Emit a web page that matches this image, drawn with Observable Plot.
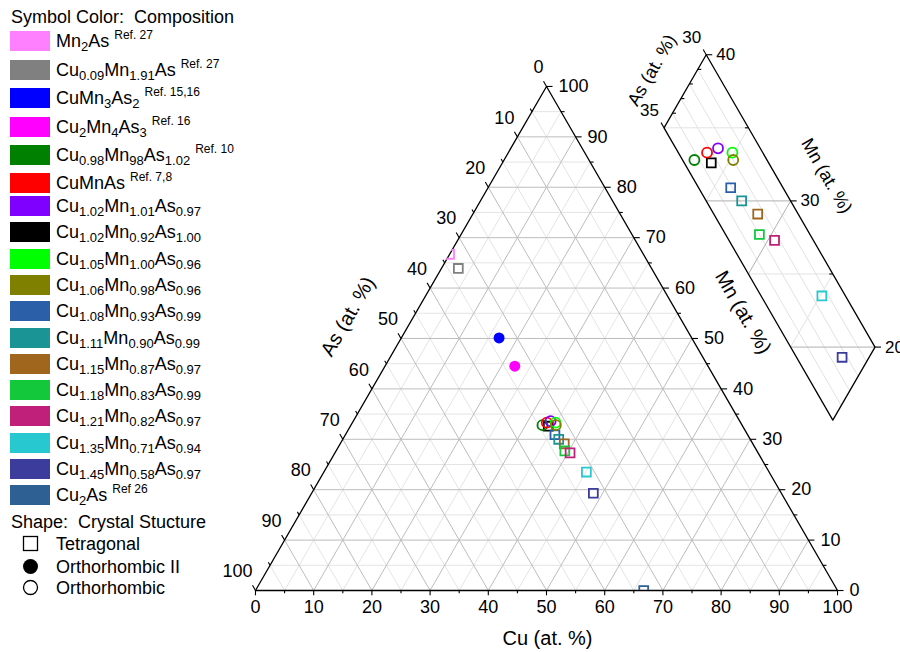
<!DOCTYPE html>
<html><head><meta charset="utf-8">
<script src="https://cdn.jsdelivr.net/npm/d3@7"></script>
<script src="https://cdn.jsdelivr.net/npm/@observablehq/plot@0.6"></script>
<style>
body{margin:0;background:#fff;}
#wrap{position:relative;width:900px;height:652px;font-family:"Liberation Sans",Arial,sans-serif;color:#000;overflow:hidden;background:#fff}
#chart{position:absolute;left:0;top:0}
#legend{position:absolute;left:0;top:0;width:250px;height:652px}
.row{position:absolute;left:0;height:24px;white-space:pre;font-size:18px}
.sw{position:absolute;left:10px;top:2px;width:40px;height:20px}
.lab{position:absolute;left:56px;top:0;line-height:24px;white-space:pre}
.ttl{position:absolute;left:11px;font-size:18px;line-height:24px;white-space:pre}
.shp{position:absolute;left:22px;top:3px}
sub{font-size:13px;vertical-align:-4px;line-height:0}
sup{font-size:12px;vertical-align:8px;line-height:0;margin-left:5px}
</style></head>
<body>
<div id="wrap"><div id="chart"></div><div id="legend"></div></div>
<script>
// ---------- data ----------
const labels = [
  "Mn<sub>2</sub>As",
  "Cu<sub>0.09</sub>Mn<sub>1.91</sub>As",
  "CuMn<sub>3</sub>As<sub>2</sub>",
  "Cu<sub>2</sub>Mn<sub>4</sub>As<sub>3</sub>",
  "Cu<sub>0.98</sub>Mn<sub>98</sub>As<sub>1.02</sub>",
  "CuMnAs",
  "Cu<sub>1.02</sub>Mn<sub>1.01</sub>As<sub>0.97</sub>",
  "Cu<sub>1.02</sub>Mn<sub>0.92</sub>As<sub>1.00</sub>",
  "Cu<sub>1.05</sub>Mn<sub>1.00</sub>As<sub>0.96</sub>",
  "Cu<sub>1.06</sub>Mn<sub>0.98</sub>As<sub>0.96</sub>",
  "Cu<sub>1.08</sub>Mn<sub>0.93</sub>As<sub>0.99</sub>",
  "Cu<sub>1.11</sub>Mn<sub>0.90</sub>As<sub>0.99</sub>",
  "Cu<sub>1.15</sub>Mn<sub>0.87</sub>As<sub>0.97</sub>",
  "Cu<sub>1.18</sub>Mn<sub>0.83</sub>As<sub>0.99</sub>",
  "Cu<sub>1.21</sub>Mn<sub>0.82</sub>As<sub>0.97</sub>",
  "Cu<sub>1.35</sub>Mn<sub>0.71</sub>As<sub>0.94</sub>",
  "Cu<sub>1.45</sub>Mn<sub>0.58</sub>As<sub>0.97</sub>",
  "Cu<sub>2</sub>As"
];
const refs = ["Ref. 27","Ref. 27","Ref. 15,16","Ref. 16","Ref. 10","Ref. 7,8","","","","","","","","","","","","Ref 26"];
const colors = ["#ff80ff","#808080","#0000ff","#ff00ff","#008000","#ff0000","#8000ff","#000000","#00ff00","#808000",
                "#2b5fa8","#1a9494","#a0661e","#14c83c","#c0207a","#28c8d0","#3c3c9c","#2e6094"];
const cuPct = [0, 2.9, 16.8, 22.3, 32.9, 33.4, 33.9, 34.0, 34.9, 35.2, 36.0, 37.1, 38.5, 39.3, 40.4, 45.1, 48.4, 66.7];
const mnPct = [66.7, 63.9, 50.1, 44.5, 32.8, 33.3, 33.6, 32.6, 33.3, 32.8, 30.9, 30.0, 29.1, 27.7, 27.3, 23.5, 19.3, 0];
const asPct = [33.3, 33.2, 33.1, 33.2, 34.3, 33.3, 32.5, 33.4, 31.8, 32.0, 33.1, 32.9, 32.4, 33.0, 32.3, 31.4, 32.3, 33.3];
const structure = ["Tetragonal","Tetragonal","Orthorhombic II","Orthorhombic II","Orthorhombic","Orthorhombic",
                   "Orthorhombic","Tetragonal","Orthorhombic","Orthorhombic","Tetragonal","Tetragonal","Tetragonal",
                   "Tetragonal","Tetragonal","Tetragonal","Tetragonal","Tetragonal"];
const inInset = [false,false,false,false,true,true,true,true,true,true,true,true,true,true,true,true,true,false];
const shapeNames = ["Tetragonal","Orthorhombic II","Orthorhombic"];

const majorTicks = [0,10,20,30,40,50,60,70,80,90,100];
const minorTicks = [5,15,25,35,45,55,65,75,85,95];
const insetCuRange = [30, 50];
const insetAsRange = [30, 35];
const insetAsTicks = [30,31,32,33,34,35];
const insetAsLabels = [30,35];
const insetMnTicks = [20,25,30,35,40];
const insetMnLabels = [20,30,40];
const insetCuGrid = [35,40,45];

// ---------- geometry ----------
const XD = [-43.81, 110.82], YD = [-10.65, 101.37];
const W = 900, H = 652;
const PX = W / (XD[1]-XD[0]);           // px per data unit
const S3 = Math.sqrt(3)/2;
const tx = (cu, mn) => cu + mn/2;
const ty = (cu, mn) => mn*S3;
const K = 2.9, IX0 = tx(100/3,100/3), IY0 = ty(100/3,100/3), IXC = 77.44, IYC = 75.31;
const ix = (cu, mn) => IXC + K*(tx(cu,mn)-IX0);
const iy = (cu, mn) => IYC + K*(ty(cu,mn)-IY0);

const pts = cuPct.map((c,i)=>({cu:c, mn:mnPct[i], as:asPct[i], color:colors[i], shape:structure[i], inset:inInset[i]}));

// main grid
const gridMinor = [], gridMajor = [];
for (const v of [...minorTicks, ...majorTicks.filter(t=>t>0 && t<100)]) {
  const arr = v % 10 === 0 ? gridMajor : gridMinor;
  arr.push({a:[0,v], b:[100-v,v]});        // const Mn
  arr.push({a:[v,0], b:[v,100-v]});        // const Cu
  arr.push({a:[0,100-v], b:[100-v,0]});    // const As
}
const tri = [[0,0],[100,0],[0,100],[0,0]];

// ticks (pixel lengths)
const tickSeg = [];
for (const t of majorTicks.concat(minorTicks)) {
  const L = (t % 10 === 0 ? 6 : 3.5) / PX;
  tickSeg.push({x1:tx(t,0), y1:0, x2:tx(t,0), y2:-L*0.8});
  tickSeg.push({x1:tx(100-t,t), y1:ty(100-t,t), x2:tx(100-t,t)+L, y2:ty(100-t,t)});
  tickSeg.push({x1:tx(0,100-t), y1:ty(0,100-t), x2:tx(0,100-t)-0.5*L, y2:ty(0,100-t)+S3*L});
}

// inset geometry
const [cuA, cuB] = insetCuRange, [asA, asB] = insetAsRange;
const insetPoly = [[cuA,100-cuA-asA],[cuA,100-cuA-asB],[cuB,100-cuB-asB],[cuB,100-cuB-asA],[cuA,100-cuA-asA]];
const iGridMinor = [], iGridMajor = [];
for (const a of insetAsTicks.filter(a=>a>asA && a<asB)) iGridMinor.push({a:[cuA,100-cuA-a], b:[cuB,100-cuB-a]});
for (const c of insetCuGrid) (c%10===0?iGridMajor:iGridMinor).push({a:[c,100-c-asA], b:[c,100-c-asB]});
for (const m of insetMnTicks.filter(m=>m<40)) (m%10===0?iGridMajor:iGridMinor).push({a:[100-asB-m,m], b:[100-asA-m,m]});
const iTickSeg = [];
for (const a of insetAsTicks) {
  const major = insetAsLabels.includes(a);
  const L = (major ? 6 : 3.5)/PX;
  const p = [cuA, 100-cuA-a];
  iTickSeg.push({x1:ix(...p), y1:iy(...p), x2:ix(...p)+(major? -0.5*L : L), y2:iy(...p)+(major? S3*L : 0)});
}
for (const m of insetMnTicks) {
  const major = insetMnLabels.includes(m);
  const L = (major ? 6 : 3.5)/PX;
  const p = [100-asA-m, m];
  iTickSeg.push({x1:ix(...p), y1:iy(...p), x2:ix(...p)+(major?L:-L), y2:iy(...p)});
}

const seg = (f) => ({x1:d=>f[0](...d.a), y1:d=>f[1](...d.a), x2:d=>f[0](...d.b), y2:d=>f[1](...d.b)});
const M = [tx, ty], I = [ix, iy];

const sq = pts.filter(d=>d.shape==="Tetragonal");
const oc = pts.filter(d=>d.shape==="Orthorhombic");
const fc = pts.filter(d=>d.shape==="Orthorhombic II");

const marks = [
  Plot.link(gridMinor, {...seg(M), stroke:"#e4e4e4", strokeWidth:1}),
  Plot.link(gridMajor, {...seg(M), stroke:"#bdbdbd", strokeWidth:1}),
  Plot.line(tri, {x:d=>tx(d[0],d[1]), y:d=>ty(d[0],d[1]), stroke:"#000", strokeWidth:1.3}),
  Plot.link(tickSeg, {x1:"x1", y1:"y1", x2:"x2", y2:"y2", stroke:"#000", strokeWidth:1.1}),
  Plot.text(majorTicks, {x:t=>tx(t,0), y:0, text:d=>String(d), dy:17, fontSize:18}),
  Plot.text(majorTicks, {x:t=>tx(100-t,t), y:t=>ty(100-t,t), text:d=>String(d), dx:12, textAnchor:"start", fontSize:18}),
  Plot.text(majorTicks, {x:t=>tx(0,100-t), y:t=>ty(0,100-t), text:d=>String(d), dx:-3, dy:-19, textAnchor:"end", fontSize:18}),
  Plot.text(["Cu (at. %)"], {x:tx(50,0), y:0, text:d=>d, dx:1, dy:48, fontSize:20}),
  Plot.text(["As (at. %)"], {x:tx(0,50), y:ty(0,50), text:d=>d, dx:-53, dy:-22, rotate:-60, fontSize:20}),
  Plot.text(["Mn (at. %)"], {x:tx(50,50), y:ty(50,50), text:d=>d, dx:51, dy:-26, rotate:60, fontSize:20})
];
const clipStart = marks.length;
marks.push(
  Plot.dot(sq, {x:d=>tx(d.cu,d.mn), y:d=>ty(d.cu,d.mn), symbol:"square", r:5, stroke:"color", fill:"none", strokeWidth:1.8}),
  Plot.dot(oc, {x:d=>tx(d.cu,d.mn), y:d=>ty(d.cu,d.mn), symbol:"circle", r:5, stroke:"color", fill:"none", strokeWidth:1.8}),
  Plot.dot(fc, {x:d=>tx(d.cu,d.mn), y:d=>ty(d.cu,d.mn), symbol:"circle", r:5.5, fill:"color", stroke:"none"})
);
const clipEnd = marks.length;
marks.push(
  Plot.link(iGridMinor, {...seg(I), stroke:"#e2e2e2", strokeWidth:1}),
  Plot.link(iGridMajor, {...seg(I), stroke:"#b0b0b0", strokeWidth:1}),
  Plot.line(insetPoly, {x:d=>ix(d[0],d[1]), y:d=>iy(d[0],d[1]), stroke:"#000", strokeWidth:1.3}),
  Plot.link(iTickSeg, {x1:"x1", y1:"y1", x2:"x2", y2:"y2", stroke:"#000", strokeWidth:1.1}),
  Plot.text(insetAsLabels, {x:a=>ix(cuA,100-cuA-a), y:a=>iy(cuA,100-cuA-a), text:d=>String(d), dx:-5, dy:-17, textAnchor:"end", fontSize:17}),
  Plot.text(insetMnLabels, {x:m=>ix(100-asA-m,m), y:m=>iy(100-asA-m,m), text:d=>String(d), dx:10, textAnchor:"start", fontSize:17}),
  Plot.text(["As (at. %)"], {x:ix(cuA,100-cuA-(asA+asB)/2), y:iy(cuA,100-cuA-(asA+asB)/2), text:d=>d, dx:-33, dy:-21, rotate:-60, fontSize:18}),
  Plot.text(["Mn (at. %)"], {x:ix(100-asA-30,30), y:iy(100-asA-30,30), text:d=>d, dx:36, dy:-25, rotate:60, fontSize:18}),
  Plot.dot(sq.filter(d=>d.inset), {x:d=>ix(d.cu,d.mn), y:d=>iy(d.cu,d.mn), symbol:"square", r:5, stroke:"color", fill:"none", strokeWidth:1.8}),
  Plot.dot(oc.filter(d=>d.inset), {x:d=>ix(d.cu,d.mn), y:d=>iy(d.cu,d.mn), symbol:"circle", r:5, stroke:"color", fill:"none", strokeWidth:1.8})
);

const plot = Plot.plot({
  width: W, height: H, margin: 0,
  x: {domain: XD, axis: null},
  y: {domain: YD, axis: null},
  color: {type: "identity"},
  style: {fontFamily: '"Liberation Sans", Arial, sans-serif', fontSize: "18px", background: "#fff", overflow: "visible"},
  marks
});

// clip main points to the triangle, using the plot's scales
const sx = plot.scale("x"), sy = plot.scale("y");
const svgNode = plot.tagName.toLowerCase() === "svg" ? plot : plot.querySelector("svg");
const svg = d3.select(svgNode);
const groups = Array.from(svgNode.children).filter(n => n.tagName.toLowerCase() === "g");
svg.insert("defs", ":first-child").append("clipPath").attr("id","triClip")
  .attr("clipPathUnits","userSpaceOnUse")
  .append("polygon").attr("points", tri.slice(0,3).map(p=>[sx.apply(tx(p[0],p[1])), sy.apply(ty(p[0],p[1]))].join(",")).join(" "));
for (let k = clipStart; k < clipEnd; k++) {
  const g = groups[k];
  if (!g) continue;
  const wrapper = document.createElementNS("http://www.w3.org/2000/svg","g");
  wrapper.setAttribute("clip-path","url(#triClip)");
  g.parentNode.insertBefore(wrapper, g);
  wrapper.appendChild(g);
}
document.getElementById("chart").appendChild(plot);

// ---------- legend ----------
const rowCenter = i => i < 5 ? 41 + 28.5*i : (i === 5 ? 183 : 206 + 26.3*(i-6));
let html = `<div class="ttl" style="top:5px">Symbol Color:  Composition</div>`;
labels.forEach((lab,i) => {
  const c = rowCenter(i);
  html += `<div class="row" style="top:${c-12}px"><div class="sw" style="background:${colors[i]}"></div>` +
          `<span class="lab">${lab}${refs[i] ? `<sup>${refs[i]}</sup>` : ""}</span></div>`;
});
html += `<div class="ttl" style="top:510px">Shape:  Crystal Stucture</div>`;
const shapeCenters = [544, 567, 588];
const shapeSvg = [
  `<svg class="shp" width="18" height="18"><rect x="1.5" y="1.5" width="14" height="14" fill="none" stroke="#000" stroke-width="1.3"/></svg>`,
  `<svg class="shp" width="18" height="18"><circle cx="8.5" cy="8.5" r="7.5" fill="#000"/></svg>`,
  `<svg class="shp" width="18" height="18"><circle cx="8.5" cy="8.5" r="7" fill="none" stroke="#000" stroke-width="1.3"/></svg>`
];
shapeNames.forEach((s,i) => {
  html += `<div class="row" style="top:${shapeCenters[i]-12}px">${shapeSvg[i]}<span class="lab">${s}</span></div>`;
});
document.getElementById("legend").innerHTML = html;
</script>
</body></html>
